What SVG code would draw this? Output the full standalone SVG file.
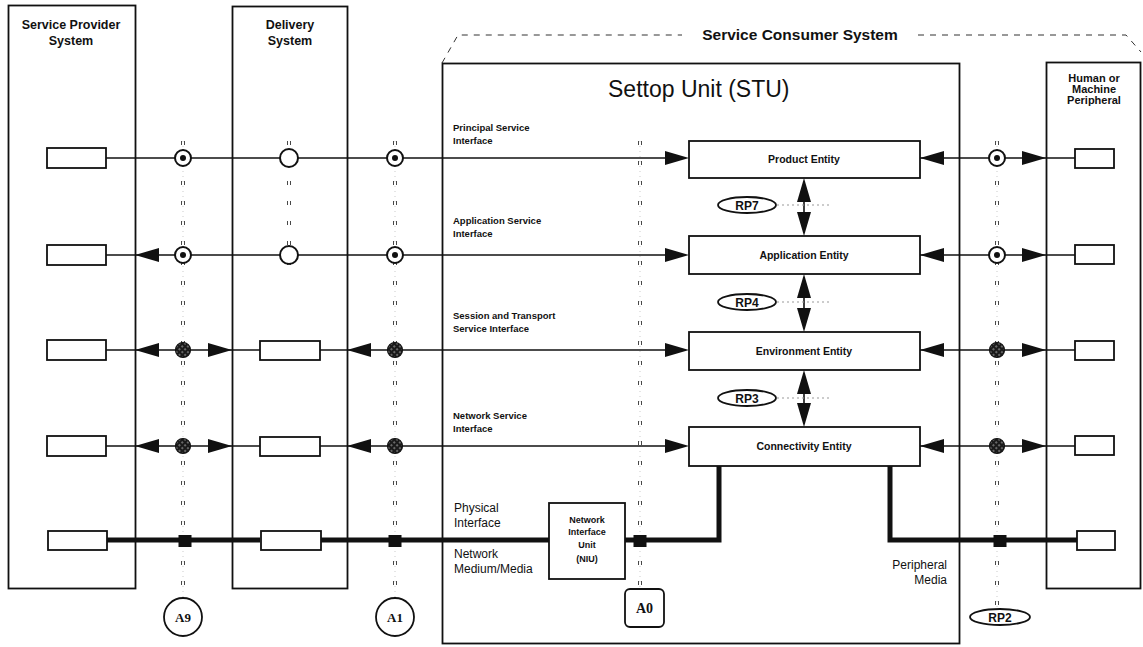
<svg xmlns="http://www.w3.org/2000/svg" width="1143" height="647" viewBox="0 0 1143 647">
<style>
.box{fill:none;stroke:#111;stroke-width:1.8}
.rect{fill:#fff;stroke:#111;stroke-width:1.8}
.ln{stroke:#111;stroke-width:1.6;fill:none}
.thick{stroke:#111;stroke-width:5;fill:none}
.t{font-family:"Liberation Sans",Arial,sans-serif;fill:#111}
.b{font-weight:bold}
.s{font-family:"Liberation Serif","Times New Roman",serif;font-weight:bold;fill:#111}
.tick{stroke:#333;stroke-width:0.9;stroke-dasharray:4 16}
.faint{stroke:#aaa;stroke-width:0.6;stroke-dasharray:1 4}
</style>
<defs>
<path id="ah" d="M0,0 L-24,-7 L-24,7 Z" fill="#111"/>
<pattern id="hatch" width="4" height="4" patternUnits="userSpaceOnUse" patternTransform="rotate(45)">
<rect width="4" height="4" fill="#1a1a1a"/>
<line x1="0" y1="2" x2="4" y2="2" stroke="#ddd" stroke-width="0.8" stroke-dasharray="2 2"/>
</pattern>
<g id="bull"><circle r="8" fill="#fff" stroke="#111" stroke-width="2"/><circle r="3" fill="#111"/></g>
<g id="open"><circle r="9" fill="#fff" stroke="#111" stroke-width="2"/></g>
<g id="hat"><circle r="7.5" fill="url(#hatch)" stroke="#111" stroke-width="1.2"/></g>
<rect id="sq" x="-6.5" y="-6" width="13" height="12" fill="#111"/>
</defs>

<!-- reference columns -->
<g id="columns">
<line class="tick" x1="181.5" y1="141" x2="181.5" y2="597"/><line class="tick" x1="184.5" y1="141" x2="184.5" y2="597"/><line class="faint" x1="183" y1="141" x2="183" y2="597"/>
<line class="tick" x1="287.5" y1="141" x2="287.5" y2="272"/><line class="tick" x1="290.5" y1="141" x2="290.5" y2="272"/>
<line class="tick" x1="393.5" y1="141" x2="393.5" y2="597"/><line class="tick" x1="396.5" y1="141" x2="396.5" y2="597"/><line class="faint" x1="395" y1="141" x2="395" y2="597"/>
<line class="tick" x1="638.5" y1="141" x2="638.5" y2="588"/><line class="tick" x1="641.5" y1="141" x2="641.5" y2="588"/><line class="faint" x1="640" y1="141" x2="640" y2="588"/>
<line class="tick" x1="995.5" y1="141" x2="995.5" y2="608"/><line class="tick" x1="998.5" y1="141" x2="998.5" y2="608"/><line class="faint" x1="997" y1="141" x2="997" y2="608"/>
</g>

<!-- systems -->
<g id="service-provider">
<rect class="box" x="8.5" y="5.5" width="127" height="583"/>
<text class="t b" x="71" y="29" font-size="12.5" text-anchor="middle">Service Provider</text>
<text class="t b" x="71" y="45" font-size="12.5" text-anchor="middle">System</text>
</g>
<g id="delivery">
<rect class="box" x="232.5" y="6.5" width="115" height="582"/>
<text class="t b" x="290" y="29" font-size="12.5" text-anchor="middle">Delivery</text>
<text class="t b" x="290" y="45" font-size="12.5" text-anchor="middle">System</text>
</g>
<g id="consumer">
<path d="M442,63 L458,35 L682,35" fill="none" stroke="#333" stroke-width="1" stroke-dasharray="6 6"/>
<path d="M918,35 L1126,35 L1141,52" fill="none" stroke="#333" stroke-width="1" stroke-dasharray="6 6"/>
<text class="t b" x="800" y="40" font-size="15.5" text-anchor="middle">Service Consumer System</text>
</g>
<g id="stu">
<rect class="box" x="442.5" y="63.5" width="517" height="580"/>
<text class="t" x="608" y="97" font-size="23">Settop Unit (STU)</text>
</g>
<g id="peripheral">
<rect class="box" x="1046.5" y="62.5" width="94" height="526"/>
<text class="t b" x="1094" y="82" font-size="11" text-anchor="middle">Human or</text>
<text class="t b" x="1094" y="93" font-size="11" text-anchor="middle">Machine</text>
<text class="t b" x="1094" y="104" font-size="11" text-anchor="middle">Peripheral</text>
</g>

<!-- connectors -->
<g id="connectors">
<!-- row 1 -->
<line class="ln" x1="106" y1="158" x2="670" y2="158"/>
<use href="#ah" x="689" y="158"/>
<line class="ln" x1="920" y1="158" x2="1075" y2="158"/>
<use href="#ah" transform="translate(920,158) rotate(180)"/>
<use href="#ah" x="1046" y="158"/>
<!-- row 2 -->
<line class="ln" x1="106" y1="255" x2="670" y2="255"/>
<use href="#ah" transform="translate(135,255) rotate(180)"/>
<use href="#ah" x="689" y="255"/>
<line class="ln" x1="920" y1="255" x2="1075" y2="255"/>
<use href="#ah" transform="translate(920,255) rotate(180)"/>
<use href="#ah" x="1046" y="255"/>
<!-- row 3 -->
<line class="ln" x1="106" y1="350" x2="260" y2="350"/>
<line class="ln" x1="320" y1="350" x2="670" y2="350"/>
<use href="#ah" transform="translate(135,350) rotate(180)"/>
<use href="#ah" x="232" y="350"/>
<use href="#ah" transform="translate(347,350) rotate(180)"/>
<use href="#ah" x="689" y="350"/>
<line class="ln" x1="920" y1="350" x2="1075" y2="350"/>
<use href="#ah" transform="translate(920,350) rotate(180)"/>
<use href="#ah" x="1046" y="350"/>
<!-- row 4 -->
<line class="ln" x1="106" y1="446" x2="260" y2="446"/>
<line class="ln" x1="320" y1="446" x2="670" y2="446"/>
<use href="#ah" transform="translate(135,446) rotate(180)"/>
<use href="#ah" x="232" y="446"/>
<use href="#ah" transform="translate(347,446) rotate(180)"/>
<use href="#ah" x="689" y="446"/>
<line class="ln" x1="920" y1="446" x2="1075" y2="446"/>
<use href="#ah" transform="translate(920,446) rotate(180)"/>
<use href="#ah" x="1046" y="446"/>
<!-- row 5 physical -->
<line class="thick" x1="107" y1="540" x2="260" y2="540"/>
<line class="thick" x1="320" y1="540" x2="549" y2="540"/>
<polyline class="thick" points="625,540 719,540 719,466"/>
<polyline class="thick" points="890,466 890,540 1077,540"/>
<!-- entity links -->
<line class="ln" x1="804" y1="200" x2="804" y2="214"/>
<use href="#ah" transform="translate(804,178) rotate(-90)"/>
<use href="#ah" transform="translate(804,236) rotate(90)"/>
<line class="ln" x1="804" y1="296" x2="804" y2="310"/>
<use href="#ah" transform="translate(804,274) rotate(-90)"/>
<use href="#ah" transform="translate(804,332) rotate(90)"/>
<line class="ln" x1="804" y1="392" x2="804" y2="405"/>
<use href="#ah" transform="translate(804,370) rotate(-90)"/>
<use href="#ah" transform="translate(804,427) rotate(90)"/>
<line x1="777" y1="205" x2="832" y2="205" stroke="#999" stroke-width="1.2" stroke-dasharray="2 3"/>
<line x1="777" y1="302" x2="832" y2="302" stroke="#999" stroke-width="1.2" stroke-dasharray="2 3"/>
<line x1="777" y1="398" x2="832" y2="398" stroke="#999" stroke-width="1.2" stroke-dasharray="2 3"/>
</g>

<!-- interface points -->
<g id="points">
<use href="#bull" x="183" y="158"/><use href="#open" x="289" y="158"/><use href="#bull" x="395" y="158"/><use href="#bull" x="997" y="158"/>
<use href="#bull" x="183" y="255"/><use href="#open" x="289" y="255"/><use href="#bull" x="395" y="255"/><use href="#bull" x="997" y="255"/>
<use href="#hat" x="183" y="350"/><use href="#hat" x="395" y="350"/><use href="#hat" x="997" y="350"/>
<use href="#hat" x="183" y="446"/><use href="#hat" x="395" y="446"/><use href="#hat" x="997" y="446"/>
<use href="#sq" x="185" y="541"/><use href="#sq" x="395" y="541"/><use href="#sq" x="640" y="541"/><use href="#sq" x="1000" y="541"/>
</g>

<!-- small end-point boxes -->
<g id="endpoints">
<rect class="rect" x="47" y="148" width="59" height="20"/>
<rect class="rect" x="47" y="245" width="59" height="20"/>
<rect class="rect" x="47" y="340" width="59" height="20"/>
<rect class="rect" x="47" y="436" width="59" height="20"/>
<rect class="rect" x="48" y="531" width="59" height="19"/>
<rect class="rect" x="260" y="341" width="60" height="19"/>
<rect class="rect" x="260" y="437" width="60" height="19"/>
<rect class="rect" x="261" y="531" width="60" height="19"/>
<rect class="rect" x="1075" y="149" width="39" height="19"/>
<rect class="rect" x="1075" y="245" width="39" height="19"/>
<rect class="rect" x="1075" y="341" width="39" height="19"/>
<rect class="rect" x="1075" y="436" width="39" height="19"/>
<rect class="rect" x="1077" y="531" width="38" height="19"/>
</g>

<!-- entities -->
<g id="product-entity"><rect class="rect" x="689" y="141" width="231" height="37"/><text class="t b" x="804" y="163" font-size="10.5" text-anchor="middle">Product Entity</text></g>
<g id="application-entity"><rect class="rect" x="689" y="236" width="231" height="38"/><text class="t b" x="804" y="259" font-size="10.5" text-anchor="middle">Application Entity</text></g>
<g id="environment-entity"><rect class="rect" x="689" y="332" width="231" height="38"/><text class="t b" x="804" y="355" font-size="10.5" text-anchor="middle">Environment Entity</text></g>
<g id="connectivity-entity"><rect class="rect" x="689" y="427" width="231" height="39"/><text class="t b" x="804" y="450" font-size="10.5" text-anchor="middle">Connectivity Entity</text></g>
<g id="niu"><rect class="rect" x="549" y="503" width="76" height="76"/>
<text class="t b" x="587" y="523" font-size="9" text-anchor="middle">Network</text>
<text class="t b" x="587" y="535" font-size="9" text-anchor="middle">Interface</text>
<text class="t b" x="587" y="548" font-size="9" text-anchor="middle">Unit</text>
<text class="t b" x="587" y="562" font-size="9" text-anchor="middle">(NIU)</text></g>

<!-- reference point labels -->
<g id="rp7"><ellipse cx="747" cy="205" rx="29" ry="8" fill="#fff" stroke="#111" stroke-width="1.8"/><text class="t b" x="747" y="209.5" font-size="12" text-anchor="middle">RP7</text></g>
<g id="rp4"><ellipse cx="747" cy="302" rx="29" ry="8" fill="#fff" stroke="#111" stroke-width="1.8"/><text class="t b" x="747" y="306.5" font-size="12" text-anchor="middle">RP4</text></g>
<g id="rp3"><ellipse cx="747" cy="398" rx="29" ry="8" fill="#fff" stroke="#111" stroke-width="1.8"/><text class="t b" x="747" y="402.5" font-size="12" text-anchor="middle">RP3</text></g>
<g id="rp2"><ellipse cx="1000" cy="617" rx="30" ry="8" fill="#fff" stroke="#111" stroke-width="1.8"/><text class="t b" x="1000" y="621.5" font-size="12" text-anchor="middle">RP2</text></g>
<g id="a9"><circle cx="183" cy="617" r="19" fill="#fff" stroke="#111" stroke-width="1.8"/><text class="s" x="183" y="622" font-size="13" text-anchor="middle">A9</text></g>
<g id="a1"><circle cx="395" cy="617" r="19" fill="#fff" stroke="#111" stroke-width="1.8"/><text class="s" x="395" y="622" font-size="13" text-anchor="middle">A1</text></g>
<g id="a0"><rect x="625" y="589" width="39" height="38" rx="5" fill="#fff" stroke="#111" stroke-width="1.8"/><text class="s" x="644.5" y="613" font-size="14" text-anchor="middle">A0</text></g>

<!-- interface labels -->
<g id="labels">
<text class="t b" x="453" y="131" font-size="9.5">Principal Service</text>
<text class="t b" x="453" y="144" font-size="9.5">Interface</text>
<text class="t b" x="453" y="224" font-size="9.5">Application Service</text>
<text class="t b" x="453" y="237" font-size="9.5">Interface</text>
<text class="t b" x="453" y="319" font-size="9.5">Session and Transport</text>
<text class="t b" x="453" y="332" font-size="9.5">Service Interface</text>
<text class="t b" x="453" y="419" font-size="9.5">Network Service</text>
<text class="t b" x="453" y="432" font-size="9.5">Interface</text>
<text class="t" x="454" y="512" font-size="12">Physical</text>
<text class="t" x="454" y="527" font-size="12">Interface</text>
<text class="t" x="454" y="558" font-size="12">Network</text>
<text class="t" x="454" y="573" font-size="12">Medium/Media</text>
<text class="t" x="947" y="569" font-size="12" text-anchor="end">Peripheral</text>
<text class="t" x="947" y="584" font-size="12" text-anchor="end">Media</text>
</g>
</svg>
